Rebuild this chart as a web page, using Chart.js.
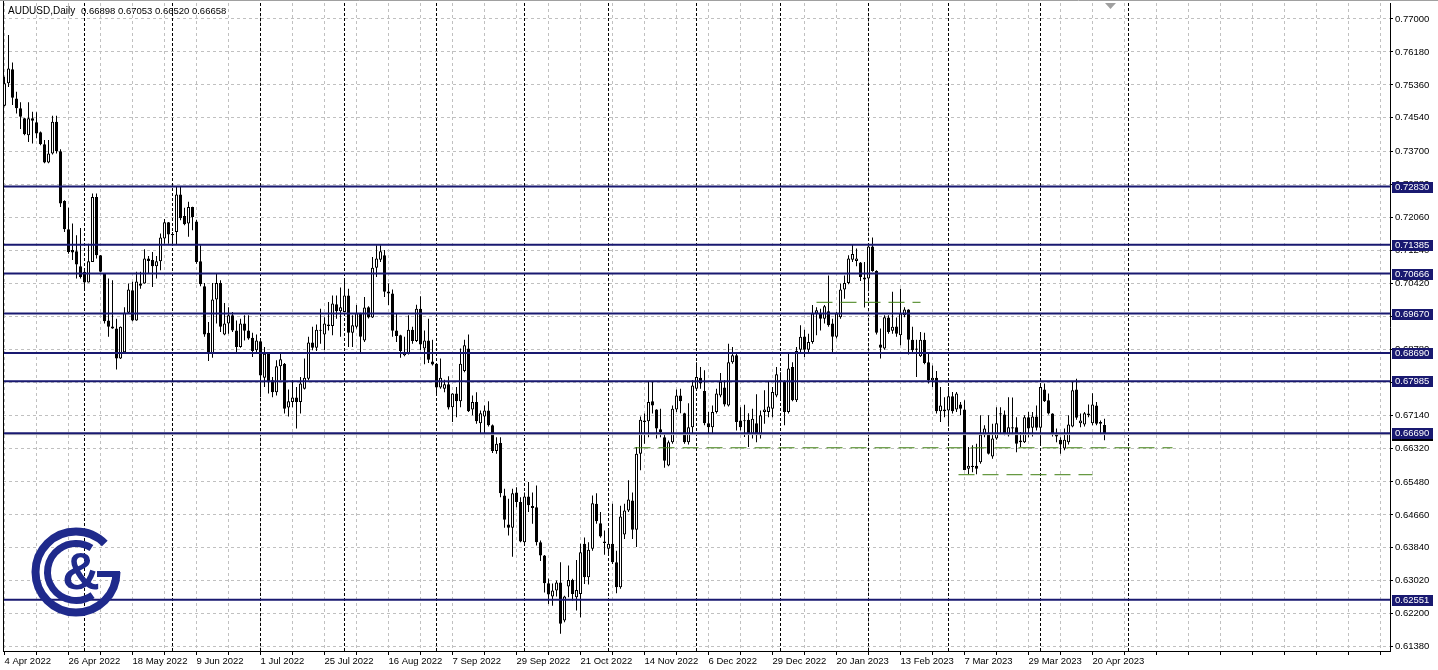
<!DOCTYPE html>
<html>
<head>
<meta charset="utf-8">
<title>AUDUSD, Daily</title>
<script src="https://cdn.jsdelivr.net/npm/chart.js@4.4.3/dist/chart.umd.min.js"></script>
<style>
  html, body { margin: 0; padding: 0; background: #fff; }
  canvas { display: block; }
</style>
</head>
<body>
<canvas id="chart" width="1438" height="670"></canvas>
<script>

// Daily AUDUSD candles, one value per trading day from 4 Apr 2022 to 25 Apr 2023.
const open = [
  0.7484, 0.7540, 0.7575, 0.7502, 0.7478, 0.7453, 0.7411, 0.7453, 0.7443, 0.7418,
  0.7388, 0.7343, 0.7365, 0.7444, 0.7371, 0.7247, 0.7177, 0.7125, 0.7122, 0.7085,
  0.7071, 0.7044, 0.7095, 0.7257, 0.7112, 0.7067, 0.6950, 0.6935, 0.6930, 0.6855,
  0.6871, 0.6969, 0.7025, 0.6950, 0.7042, 0.7042, 0.7104, 0.7100, 0.7085, 0.7097,
  0.7154, 0.7194, 0.7165, 0.7170, 0.7263, 0.7210, 0.7191, 0.7232, 0.7196, 0.7097,
  0.7035, 0.6919, 0.6867, 0.7002, 0.7043, 0.6915, 0.6942, 0.6963, 0.6925, 0.6884,
  0.6942, 0.6925, 0.6907, 0.6876, 0.6898, 0.6807, 0.6867, 0.6801, 0.6771, 0.6836,
  0.6842, 0.6733, 0.6747, 0.6758, 0.6747, 0.6780, 0.6805, 0.6895, 0.6882, 0.6927,
  0.6915, 0.6940, 0.6936, 0.6990, 0.6973, 0.6971, 0.7012, 0.6919, 0.6934, 0.6968,
  0.6900, 0.6983, 0.6957, 0.7081, 0.7101, 0.7112, 0.7022, 0.7017, 0.6925, 0.6913,
  0.6863, 0.6869, 0.6927, 0.6899, 0.6979, 0.6880, 0.6900, 0.6848, 0.6842, 0.6783,
  0.6780, 0.6791, 0.6734, 0.6768, 0.6749, 0.6824, 0.6880, 0.6728, 0.6747, 0.6694,
  0.6711, 0.6726, 0.6689, 0.6625, 0.6645, 0.6514, 0.6442, 0.6434, 0.6522, 0.6498,
  0.6398, 0.6512, 0.6488, 0.6485, 0.6398, 0.6365, 0.6296, 0.6263, 0.6278, 0.6298,
  0.6203, 0.6288, 0.6304, 0.6261, 0.6269, 0.6394, 0.6311, 0.6382, 0.6494, 0.6445,
  0.6400, 0.6382, 0.6394, 0.6348, 0.6286, 0.6417, 0.6477, 0.6502, 0.6429, 0.6618,
  0.6701, 0.6699, 0.6749, 0.6728, 0.6679, 0.6659, 0.6589, 0.6647, 0.6728, 0.6763,
  0.6719, 0.6647, 0.6684, 0.6780, 0.6807, 0.6774, 0.6694, 0.6684, 0.6722, 0.6763,
  0.6783, 0.6738, 0.6846, 0.6863, 0.6701, 0.6701, 0.6703, 0.6668, 0.6694, 0.6664,
  0.6722, 0.6722, 0.6730, 0.6763, 0.6801, 0.6797, 0.6722, 0.6834, 0.6751, 0.6877,
  0.6910, 0.6877, 0.6896, 0.6967, 0.6967, 0.6954, 0.6973, 0.6942, 0.6909, 0.6958,
  0.7027, 0.7043, 0.7101, 0.7098, 0.7094, 0.7057, 0.7054, 0.7134, 0.7073, 0.6890,
  0.6880, 0.6957, 0.6924, 0.6935, 0.6913, 0.6963, 0.6977, 0.6902, 0.6880, 0.6861,
  0.6902, 0.6846, 0.6801, 0.6807, 0.6724, 0.6728, 0.6726, 0.6761, 0.6728, 0.6741,
  0.6728, 0.6581, 0.6588, 0.6588, 0.6597, 0.6664, 0.6670, 0.6611, 0.6656, 0.6719,
  0.6716, 0.6664, 0.6684, 0.6684, 0.6647, 0.6647, 0.6709, 0.6683, 0.6711, 0.6683,
  0.6778, 0.6751, 0.6718, 0.6669, 0.6653, 0.6631, 0.6647, 0.6686, 0.6778, 0.6694,
  0.6691, 0.6718, 0.6694, 0.6738, 0.6697, 0.66898
];

const high = [
  0.7556, 0.7660, 0.7592, 0.7519, 0.7493, 0.7454, 0.7493, 0.7469, 0.7468, 0.7420,
  0.7399, 0.7399, 0.7459, 0.7459, 0.7376, 0.7249, 0.7230, 0.7191, 0.7162, 0.7180,
  0.7080, 0.7141, 0.7266, 0.7266, 0.7113, 0.7068, 0.7054, 0.7050, 0.6954, 0.6935,
  0.6983, 0.7042, 0.7046, 0.7071, 0.7071, 0.7127, 0.7110, 0.7120, 0.7110, 0.7166,
  0.7202, 0.7195, 0.7170, 0.7282, 0.7282, 0.7230, 0.7245, 0.7233, 0.7200, 0.7137,
  0.7043, 0.6946, 0.7043, 0.7068, 0.7050, 0.6993, 0.6983, 0.6971, 0.6950, 0.6954,
  0.6963, 0.6963, 0.6919, 0.6915, 0.6902, 0.6884, 0.6868, 0.6809, 0.6851, 0.6871,
  0.6844, 0.6778, 0.6801, 0.6784, 0.6809, 0.6855, 0.6909, 0.6934, 0.6940, 0.6979,
  0.6958, 0.6996, 0.7012, 0.7012, 0.7032, 0.7054, 0.7029, 0.6963, 0.6988, 0.6969,
  0.7008, 0.6985, 0.7108, 0.7137, 0.7137, 0.7125, 0.7042, 0.7027, 0.6968, 0.6914,
  0.6909, 0.6963, 0.6934, 0.6989, 0.7010, 0.6925, 0.6954, 0.6902, 0.6844, 0.6855,
  0.6802, 0.6811, 0.6769, 0.6784, 0.6880, 0.6902, 0.6915, 0.6763, 0.6771, 0.6726,
  0.6738, 0.6749, 0.6691, 0.6659, 0.6659, 0.6531, 0.6506, 0.6531, 0.6535, 0.6510,
  0.6522, 0.6548, 0.6522, 0.6539, 0.6402, 0.6366, 0.6308, 0.6295, 0.6303, 0.6348,
  0.6265, 0.6340, 0.6307, 0.6354, 0.6394, 0.6410, 0.6398, 0.6514, 0.6520, 0.6473,
  0.6427, 0.6427, 0.6494, 0.6377, 0.6489, 0.6494, 0.6552, 0.6522, 0.6635, 0.6711,
  0.6718, 0.6797, 0.6797, 0.6729, 0.6730, 0.6668, 0.6651, 0.6738, 0.6778, 0.6780,
  0.6720, 0.6744, 0.6801, 0.6846, 0.6834, 0.6826, 0.6722, 0.6738, 0.6780, 0.6819,
  0.6801, 0.6892, 0.6884, 0.6871, 0.6734, 0.6740, 0.6719, 0.6730, 0.6766, 0.6726,
  0.6776, 0.6797, 0.6784, 0.6834, 0.6821, 0.6801, 0.6871, 0.6846, 0.6884, 0.6938,
  0.6927, 0.6917, 0.6988, 0.6983, 0.6979, 0.6988, 0.7062, 0.6954, 0.6971, 0.7042,
  0.7062, 0.7112, 0.7139, 0.7129, 0.7095, 0.7095, 0.7139, 0.7156, 0.7075, 0.6930,
  0.6963, 0.6963, 0.7021, 0.6957, 0.7029, 0.6983, 0.6978, 0.6934, 0.6902, 0.6921,
  0.6919, 0.6871, 0.6838, 0.6824, 0.6784, 0.6759, 0.6784, 0.6772, 0.6772, 0.6747,
  0.6751, 0.6635, 0.6639, 0.6643, 0.6714, 0.6689, 0.6714, 0.6693, 0.6734, 0.6734,
  0.6726, 0.6759, 0.6758, 0.6709, 0.6672, 0.6714, 0.6722, 0.6722, 0.6738, 0.6794,
  0.6793, 0.6768, 0.6719, 0.6681, 0.6659, 0.6681, 0.6714, 0.6797, 0.6805, 0.6718,
  0.6722, 0.6741, 0.6769, 0.6747, 0.6701, 0.67053
];

const low = [
  0.7483, 0.7531, 0.7486, 0.7465, 0.7426, 0.7411, 0.7394, 0.7390, 0.7403, 0.7386,
  0.7341, 0.7341, 0.7363, 0.7365, 0.7232, 0.7170, 0.7116, 0.7100, 0.7054, 0.7054,
  0.7029, 0.7044, 0.7095, 0.7104, 0.7070, 0.6942, 0.6909, 0.6929, 0.6828, 0.6854,
  0.6867, 0.6967, 0.6948, 0.6949, 0.7029, 0.7041, 0.7067, 0.7033, 0.7054, 0.7075,
  0.7141, 0.7141, 0.7141, 0.7139, 0.7199, 0.7187, 0.7158, 0.7174, 0.7091, 0.7035,
  0.6909, 0.6849, 0.6857, 0.6942, 0.6921, 0.6913, 0.6917, 0.6921, 0.6867, 0.6882,
  0.6900, 0.6902, 0.6859, 0.6871, 0.6759, 0.6784, 0.6768, 0.6759, 0.6763, 0.6801,
  0.6718, 0.6711, 0.6734, 0.6681, 0.6718, 0.6778, 0.6801, 0.6876, 0.6874, 0.6892,
  0.6876, 0.6925, 0.6913, 0.6954, 0.6909, 0.6970, 0.6884, 0.6884, 0.6930, 0.6867,
  0.6896, 0.6955, 0.6956, 0.7058, 0.7095, 0.7008, 0.6988, 0.6909, 0.6896, 0.6857,
  0.6861, 0.6865, 0.6892, 0.6896, 0.6876, 0.6841, 0.6844, 0.6838, 0.6763, 0.6780,
  0.6771, 0.6728, 0.6697, 0.6709, 0.6734, 0.6821, 0.6722, 0.6714, 0.6693, 0.6668,
  0.6669, 0.6686, 0.6620, 0.6618, 0.6510, 0.6434, 0.6415, 0.6362, 0.6485, 0.6398,
  0.6393, 0.6473, 0.6444, 0.6390, 0.6351, 0.6273, 0.6244, 0.6240, 0.6263, 0.6170,
  0.6199, 0.6261, 0.6253, 0.6228, 0.6211, 0.6294, 0.6293, 0.6377, 0.6444, 0.6409,
  0.6367, 0.6367, 0.6344, 0.6271, 0.6282, 0.6406, 0.6473, 0.6406, 0.6386, 0.6577,
  0.6643, 0.6659, 0.6718, 0.6656, 0.6659, 0.6583, 0.6587, 0.6643, 0.6722, 0.6719,
  0.6643, 0.6641, 0.6668, 0.6776, 0.6780, 0.6689, 0.6668, 0.6668, 0.6718, 0.6759,
  0.6736, 0.6736, 0.6842, 0.6676, 0.6676, 0.6660, 0.6635, 0.6656, 0.6647, 0.6656,
  0.6693, 0.6709, 0.6709, 0.6759, 0.6751, 0.6689, 0.6718, 0.6749, 0.6747, 0.6871,
  0.6859, 0.6871, 0.6892, 0.6913, 0.6925, 0.6942, 0.6934, 0.6871, 0.6905, 0.6954,
  0.7004, 0.7040, 0.7095, 0.7085, 0.7048, 0.6982, 0.7027, 0.7071, 0.6915, 0.6855,
  0.6877, 0.6917, 0.6917, 0.6909, 0.6888, 0.6958, 0.6865, 0.6867, 0.6809, 0.6859,
  0.6841, 0.6793, 0.6784, 0.6718, 0.6697, 0.6709, 0.6686, 0.6718, 0.6722, 0.6714,
  0.6577, 0.6568, 0.6572, 0.6567, 0.6593, 0.6659, 0.6616, 0.6606, 0.6653, 0.6666,
  0.6664, 0.6661, 0.6666, 0.6622, 0.6635, 0.6645, 0.6659, 0.6661, 0.6676, 0.6643,
  0.6747, 0.6716, 0.6661, 0.6647, 0.6618, 0.6627, 0.6641, 0.6684, 0.6703, 0.6684,
  0.6686, 0.6709, 0.6689, 0.6689, 0.6666, 0.66520
];

const close = [
  0.7540, 0.7577, 0.7504, 0.7478, 0.7457, 0.7413, 0.7453, 0.7447, 0.7415, 0.7388,
  0.7343, 0.7365, 0.7444, 0.7371, 0.7241, 0.7177, 0.7120, 0.7119, 0.7089, 0.7058,
  0.7044, 0.7097, 0.7257, 0.7112, 0.7071, 0.6948, 0.6934, 0.6930, 0.6855, 0.6934,
  0.6969, 0.7027, 0.6950, 0.7047, 0.7036, 0.7104, 0.7098, 0.7085, 0.7097, 0.7156,
  0.7194, 0.7164, 0.7162, 0.7263, 0.7204, 0.7189, 0.7232, 0.7207, 0.7095, 0.7040,
  0.6915, 0.6867, 0.7002, 0.7043, 0.6934, 0.6942, 0.6963, 0.6925, 0.6884, 0.6942,
  0.6924, 0.6905, 0.6874, 0.6900, 0.6813, 0.6867, 0.6797, 0.6771, 0.6836, 0.6853,
  0.6730, 0.6749, 0.6758, 0.6747, 0.6793, 0.6807, 0.6895, 0.6882, 0.6927, 0.6924,
  0.6942, 0.6936, 0.6992, 0.6973, 0.6983, 0.7012, 0.6919, 0.6938, 0.6968, 0.6909,
  0.6982, 0.6957, 0.7081, 0.7104, 0.7122, 0.7021, 0.7017, 0.6924, 0.6911, 0.6874,
  0.6871, 0.6927, 0.6899, 0.6979, 0.6890, 0.6900, 0.6852, 0.6840, 0.6783, 0.6807,
  0.6791, 0.6733, 0.6768, 0.6749, 0.6842, 0.6888, 0.6724, 0.6747, 0.6699, 0.6719,
  0.6726, 0.6689, 0.6625, 0.6643, 0.6520, 0.6454, 0.6434, 0.6520, 0.6498, 0.6400,
  0.6512, 0.6490, 0.6483, 0.6398, 0.6365, 0.6296, 0.6268, 0.6278, 0.6298, 0.6195,
  0.6263, 0.6304, 0.6269, 0.6279, 0.6373, 0.6311, 0.6379, 0.6495, 0.6450, 0.6412,
  0.6396, 0.6394, 0.6348, 0.6286, 0.6462, 0.6477, 0.6504, 0.6429, 0.6618, 0.6703,
  0.6697, 0.6747, 0.6738, 0.6681, 0.6672, 0.6601, 0.6647, 0.6730, 0.6763, 0.6749,
  0.6647, 0.6684, 0.6788, 0.6809, 0.6793, 0.6694, 0.6684, 0.6722, 0.6768, 0.6797,
  0.6741, 0.6846, 0.6863, 0.6697, 0.6684, 0.6699, 0.6666, 0.6705, 0.6664, 0.6714,
  0.6728, 0.6736, 0.6772, 0.6816, 0.6797, 0.6722, 0.6830, 0.6751, 0.6874, 0.6909,
  0.6877, 0.6896, 0.6967, 0.6975, 0.6954, 0.6985, 0.6938, 0.6909, 0.6967, 0.7027,
  0.7043, 0.7104, 0.7115, 0.7104, 0.7058, 0.7052, 0.7134, 0.7073, 0.6919, 0.6882,
  0.6958, 0.6921, 0.6934, 0.6917, 0.6967, 0.6977, 0.6902, 0.6876, 0.6877, 0.6902,
  0.6844, 0.6801, 0.6807, 0.6724, 0.6738, 0.6724, 0.6761, 0.6724, 0.6768, 0.6730,
  0.6578, 0.6588, 0.6585, 0.6581, 0.6666, 0.6681, 0.6618, 0.6656, 0.6694, 0.6716,
  0.6666, 0.6684, 0.6681, 0.6643, 0.6651, 0.6709, 0.6681, 0.6711, 0.6683, 0.6784,
  0.6749, 0.6718, 0.6666, 0.6661, 0.6641, 0.6653, 0.6691, 0.6776, 0.6708, 0.6701,
  0.6719, 0.6714, 0.6741, 0.6693, 0.6693, 0.66658
];

// Date labels, one every 16 bars.
const xTickLabels = [
  '4 Apr 2022', '26 Apr 2022', '18 May 2022', '9 Jun 2022', '1 Jul 2022', '25 Jul 2022',
  '16 Aug 2022', '7 Sep 2022', '29 Sep 2022', '21 Oct 2022', '14 Nov 2022', '6 Dec 2022',
  '29 Dec 2022', '20 Jan 2023', '13 Feb 2023', '7 Mar 2023', '29 Mar 2023', '20 Apr 2023'
];

// Price scale labels.
const yTicks = [
  0.77000, 0.76180, 0.75360, 0.74540, 0.73700, 0.72880, 0.72060, 0.71240, 0.70420, 0.69600,
  0.68780, 0.67960, 0.67140, 0.66320, 0.65480, 0.64660, 0.63840, 0.63020, 0.62200, 0.61380
];

// Bar index of the first trading day of each month (period separators).
const monthStarts = [20, 42, 64, 85, 108, 130, 151, 173, 194, 216, 236, 259, 281];

// Horizontal support / resistance levels.
const levels = [0.72830, 0.71385, 0.70666, 0.69670, 0.68690, 0.67985, 0.66690, 0.62551];

// Green dashed lines: price, first bar, last bar.
const dashPrices = [0.6995, 0.6633, 0.6566];
const dashFrom = [203, 157.5, 238.5];
const dashTo = [229, 292, 272];

const NAVY = '#191970';
const GREEN = '#3f7f12';
const FONT = '"Liberation Sans", Arial, sans-serif';
const last = close.length - 1;

const candles = open.map((o, i) => i);

const datasets = [];

// Levels over the candles.
levels.forEach(v => {
  datasets.push({
    type: 'line',
    data: [{ x: -1, y: v }, { x: 400, y: v }],
    borderColor: NAVY,
    borderWidth: 2,
    pointRadius: 0,
    order: 0
  });
});

dashPrices.forEach((v, k) => {
  datasets.push({
    type: 'line',
    data: [{ x: dashFrom[k], y: v }, { x: dashTo[k], y: v }],
    borderColor: GREEN,
    borderWidth: 1,
    borderDash: [16, 8],
    pointRadius: 0,
    order: 0
  });
});

// Bid line.
datasets.push({
  type: 'line',
  data: [{ x: -1, y: close[last] }, { x: 400, y: close[last] }],
  borderColor: '#c0c0c0',
  borderWidth: 1,
  pointRadius: 0,
  order: 1
});

// Candle bodies.
datasets.push({
  type: 'bar',
  data: candles.map(i => ({ x: i, y: [open[i], close[i]] })),
  backgroundColor: candles.map(i => close[i] >= open[i] ? '#ffffff' : '#000000'),
  borderColor: '#000000',
  borderWidth: 1,
  borderSkipped: false,
  barThickness: 3,
  minBarLength: 1,
  inflateAmount: 0,
  grouped: false,
  order: 2
});

// Candle wicks.
datasets.push({
  type: 'bar',
  data: candles.map(i => ({ x: i, y: [low[i], high[i]] })),
  backgroundColor: '#000000',
  borderWidth: 0,
  barThickness: 1,
  minBarLength: 1,
  inflateAmount: 0,
  grouped: false,
  order: 3
});

// Separators, frame, header, price labels and logo.
const terminal = {
  id: 'terminal',

  beforeDatasetsDraw(chart) {
    const { ctx, chartArea: a, scales: { x } } = chart;
    ctx.save();
    ctx.strokeStyle = '#000';
    ctx.lineWidth = 1;
    ctx.setLineDash([3, 2]);
    monthStarts.forEach(bar => {
      const px = Math.floor(x.getPixelForValue(bar)) + 0.5;
      ctx.beginPath();
      ctx.moveTo(px, a.top);
      ctx.lineTo(px, a.bottom);
      ctx.stroke();
    });
    ctx.restore();
  },

  afterDraw(chart) {
    const { ctx, chartArea: a, scales: { y } } = chart;
    ctx.save();

    // Frame.
    ctx.strokeStyle = '#a0a0a0';
    ctx.beginPath();
    ctx.moveTo(0, 0.5);
    ctx.lineTo(chart.width, 0.5);
    ctx.stroke();
    ctx.strokeStyle = '#000';
    ctx.beginPath();
    ctx.moveTo(a.left + 0.5, 1);
    ctx.lineTo(a.left + 0.5, a.bottom);
    ctx.moveTo(a.left, a.bottom + 0.5);
    ctx.lineTo(a.right + 1, a.bottom + 0.5);
    ctx.moveTo(a.right + 0.5, a.top);
    ctx.lineTo(a.right + 0.5, a.bottom + 1);
    ctx.stroke();

    // Chart shift marker.
    ctx.fillStyle = '#a0a0a0';
    ctx.beginPath();
    ctx.moveTo(1105, 3);
    ctx.lineTo(1116, 3);
    ctx.lineTo(1110.5, 9);
    ctx.closePath();
    ctx.fill();

    // Header.
    ctx.fillStyle = '#000';
    ctx.font = '10px ' + FONT;
    ctx.textBaseline = 'middle';
    ctx.textAlign = 'left';
    ctx.fillText('AUDUSD,Daily', 8, 11);
    ctx.font = '9.5px ' + FONT;
    ctx.fillText([open[last], high[last], low[last], close[last]].map(v => v.toFixed(5)).join(' '), 81, 11);

    // Price labels on the right scale.
    const tag = (v, bg) => {
      const py = Math.round(y.getPixelForValue(v));
      ctx.fillStyle = bg;
      ctx.fillRect(a.right + 2, py - 5, 41, 11);
      ctx.fillStyle = '#fff';
      ctx.fillText(v.toFixed(5), a.right + 5, py + 0.5);
    };
    tag(close[last], '#000');
    levels.forEach(v => tag(v, NAVY));

    // Logo.
    const cx = 76, cy = 572;
    ctx.strokeStyle = ctx.fillStyle = '#1f2a8c';
    ctx.lineWidth = 8;
    ctx.beginPath();
    ctx.arc(cx, cy, 40.5, 0, Math.PI * 2 - 0.78);
    ctx.stroke();
    ctx.fillRect(cx + 21, cy - 1, 23, 6);
    ctx.lineWidth = 7;
    ctx.beginPath();
    ctx.arc(cx, cy, 28.5, 0.95, Math.PI * 2 - 1.0);
    ctx.stroke();
    ctx.font = 'bold 52px ' + FONT;
    ctx.textAlign = 'center';
    ctx.textBaseline = 'middle';
    ctx.fillText('&', cx + 5, cy + 3);

    ctx.restore();
  }
};

new Chart(document.getElementById('chart'), {
  type: 'bar',
  data: { datasets },
  options: {
    responsive: false,
    animation: false,
    devicePixelRatio: 1,
    events: [],
    layout: { padding: { top: 3, left: 3, right: 0, bottom: 0 } },
    plugins: {
      legend: { display: false },
      tooltip: { enabled: false }
    },
    scales: {
      x: {
        type: 'linear',
        min: -0.375,
        max: 346.375,
        offset: false,
        afterBuildTicks: scale => {
          scale.ticks = [];
          for (let b = 0; b <= 344; b += 8) scale.ticks.push({ value: b });
        },
        afterFit: scale => {
          scale.height = 19;
          scale.paddingLeft = 0;
          scale.paddingRight = 0;
        },
        grid: {
          offset: false,
          color: '#c0c0c0',
          lineWidth: 1,
          drawTicks: true,
          tickLength: 4,
          tickColor: '#000',
          tickBorderDash: []
        },
        border: { display: false, dash: [3, 3] },
        ticks: {
          autoSkip: false,
          maxRotation: 0,
          minRotation: 0,
          align: 'start',
          padding: 1,
          color: '#000',
          font: { family: FONT, size: 9.5 },
          callback: v => v % 16 === 0 ? (xTickLabels[v / 16] || '') : ''
        }
      },
      y: {
        type: 'linear',
        position: 'right',
        min: 0.61273,
        max: 0.77398,
        afterBuildTicks: scale => { scale.ticks = yTicks.map(v => ({ value: v })); },
        afterFit: scale => {
          scale.width = 48;
          scale.paddingTop = 0;
          scale.paddingBottom = 0;
        },
        grid: {
          color: '#c0c0c0',
          lineWidth: 1,
          tickLength: 3,
          tickColor: '#000',
          tickBorderDash: []
        },
        border: { display: false, dash: [3, 3] },
        ticks: {
          padding: 2,
          color: '#000',
          font: { family: FONT, size: 9.5 },
          callback: v => v.toFixed(5)
        }
      }
    }
  },
  plugins: [terminal]
});
</script>
</body>
</html>
